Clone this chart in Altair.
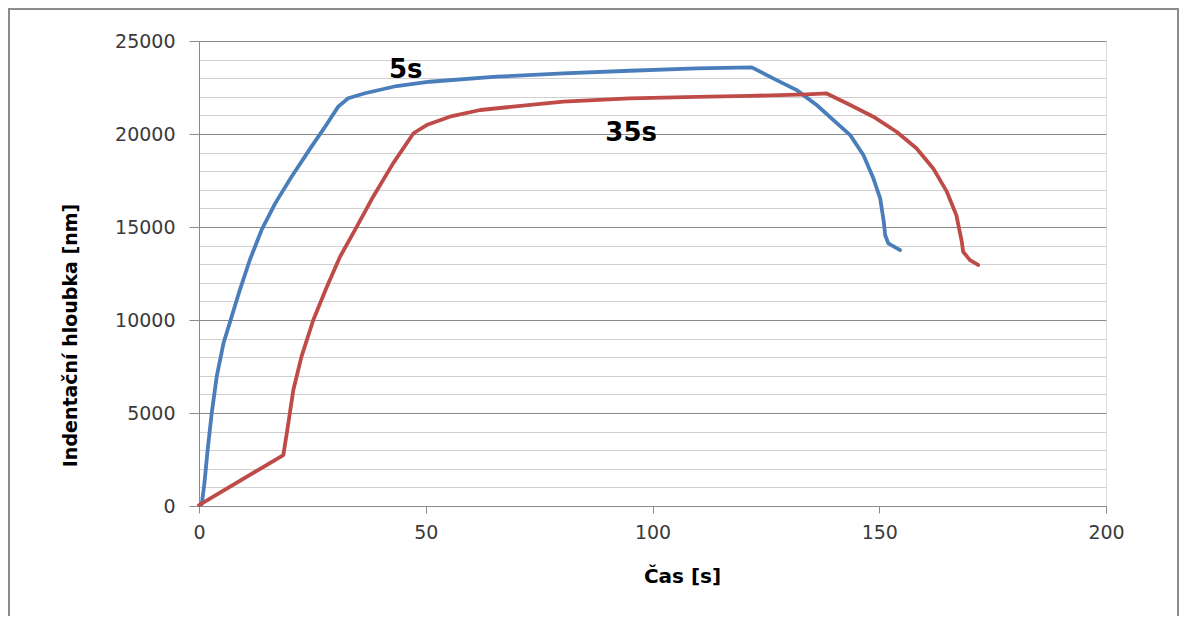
import altair as alt
import pandas as pd

# Series "5s" (blue)
t_5s = [0.6, 1.2, 1.9, 2.8, 3.9, 5.4, 7.2, 9.0, 11.2, 13.8, 16.8, 20.4, 24.8, 27.8, 30.7,
        32.9, 36.6, 43.6, 50.9, 65.6, 80.3, 95.0, 109.7, 121.9, 126.6, 131.8, 136.2,
        139.9, 143.6, 146.5, 148.7, 150.2, 151.0, 151.3, 152.0, 154.6]
d_5s = [100, 1220, 3010, 4980, 6950, 8750, 10180, 11610, 13225, 14840, 16270, 17700, 19320,
        20390, 21470, 21920, 22190, 22580, 22810, 23080, 23260, 23400, 23530, 23580, 22990,
        22360, 21560, 20750, 19940, 18870, 17620, 16540, 15280, 14570, 14120, 13760]

# Series "35s" (red)
t_35s = [0.0, 18.6, 19.7, 20.8, 22.6, 25.2, 28.2, 31.1, 34.8, 38.4, 42.8, 47.3, 50.2, 55.3,
         62.0, 80.3, 95.0, 109.7, 121.5, 134.0, 138.4, 143.6, 148.7, 153.8, 158.2, 161.9,
         164.9, 167.0, 168.2, 168.5, 170.0, 171.8]
d_35s = [50, 2740, 4450, 6240, 8030, 10000, 11790, 13400, 15020, 16630, 18420, 20040, 20480,
         20930, 21290, 21740, 21920, 22000, 22050, 22130, 22180, 21560, 20930, 20120, 19230,
         18150, 16900, 15640, 14210, 13670, 13220, 12960]

series_names = ["5s", "35s"]
series_colors = ["#4A7EBB", "#BE4B48"]

label_text = ["5s", "35s"]
label_t = [45.6, 95.3]
label_d = [23440, 20050]

x_ticks = [0, 50, 100, 150, 200]
y_minor = list(range(0, 25001, 1000))

rows = []
for i, (t, d) in enumerate(zip(t_5s, d_5s)):
    rows.append({"t": t, "d": d, "s": "5s", "o": i})
for i, (t, d) in enumerate(zip(t_35s, d_35s)):
    rows.append({"t": t, "d": d, "s": "35s", "o": i})
df = pd.DataFrame(rows)
labels_df = pd.DataFrame({"text": label_text, "t": label_t, "d": label_d})

GRID_MAJOR = "#8a8a8a"
TXT = "#3a3a3a"
major_test = "datum.value % 5000 === 0"

x_enc = alt.X(
    "t:Q",
    scale=alt.Scale(domain=[0, 200], nice=False, zero=False),
    axis=alt.Axis(
        values=x_ticks, grid=False, title="Čas [s]", format="d",
        domainColor=GRID_MAJOR, tickColor=GRID_MAJOR, tickSize=7,
        labelFont="DejaVu Sans", labelFontSize=19, labelColor=TXT, labelPadding=10,
        labelFlush=False, labelOverlap=False,
        titleFont="DejaVu Sans", titleFontSize=20, titleFontWeight="bold", titleColor="#000000",
        titleX=483, titleY=70, titleAlign="center", titleBaseline="middle",
    ),
)
y_enc = alt.Y(
    "d:Q",
    scale=alt.Scale(domain=[0, 25000], nice=False),
    axis=alt.Axis(
        values=y_minor, grid=True, title="Indentační hloubka [nm]",
        labelExpr="datum.value % 5000 === 0 ? format(datum.value, 'd') : ''",
        gridColor={"condition": {"test": major_test, "value": GRID_MAJOR}, "value": "#d0d0d0"},
        tickColor={"condition": {"test": major_test, "value": GRID_MAJOR}, "value": "rgba(0,0,0,0)"},
        gridWidth=1, tickSize=10, domainColor=GRID_MAJOR,
        labelFont="DejaVu Sans", labelFontSize=19, labelColor=TXT, labelPadding=14,
        labelFlush=False, labelOverlap=False,
        titleFont="DejaVu Sans", titleFontSize=19, titleFontWeight="bold", titleColor="#000000",
        titleX=-129, titleY=294, titleAlign="center", titleBaseline="middle", titleAngle=270,
    ),
)

lines = alt.Chart(df).mark_line(strokeWidth=3.8, strokeJoin="round", strokeCap="round").encode(
    x=x_enc,
    y=y_enc,
    color=alt.Color("s:N", scale=alt.Scale(domain=series_names, range=series_colors), legend=None),
    order="o:Q",
)

texts = alt.Chart(labels_df).mark_text(
    font="DejaVu Sans", fontSize=26, fontWeight="bold", color="#000000",
    align="center", baseline="middle",
).encode(x=x_enc, y=y_enc, text="text:N")

frame = alt.Chart(alt.Data(values=[{"k": 1}])).mark_rect(
    fill="transparent", stroke="#8c8c8c", strokeWidth=2
).encode(x=alt.value(-190), x2=alt.value(979), y=alt.value(-32), y2=alt.value(700))

chart = alt.layer(frame, lines, texts).properties(
    width=907, height=465,
    autosize=alt.AutoSizeParams(type="none"),
    padding={"left": 191, "top": 33, "right": 74, "bottom": 110},
).configure_view(stroke=None).configure(background="white")

chart.save("out.html", embed_options={"renderer": "svg", "actions": False})
